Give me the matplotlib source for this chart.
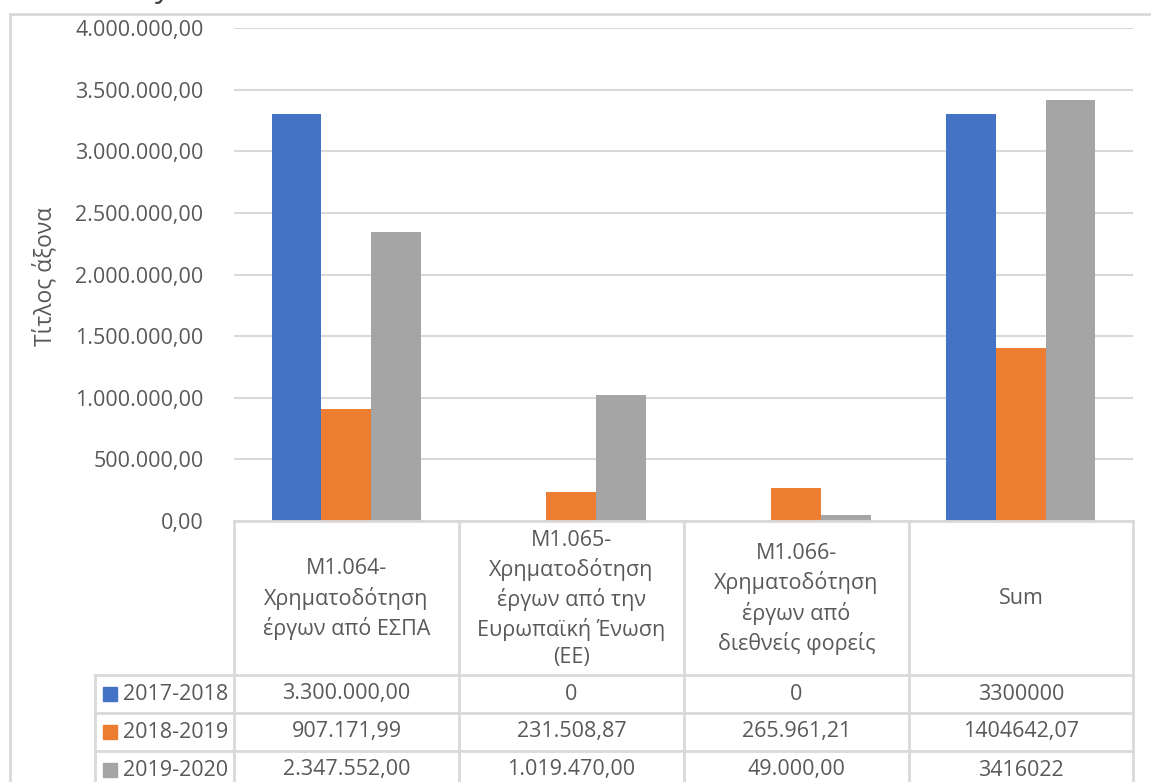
import matplotlib.pyplot as plt
from matplotlib.lines import Line2D
from matplotlib.patches import Rectangle
from matplotlib.ticker import FuncFormatter, MultipleLocator

# data
categories = [
    "M1.064-\nΧρηματοδότηση\nέργων από ΕΣΠΑ",
    "M1.065-\nΧρηματοδότηση\nέργων από την\nΕυρωπαϊκή Ένωση\n(ΕΕ)",
    "M1.066-\nΧρηματοδότηση\nέργων από\nδιεθνείς φορείς",
    "Sum",
]
series_names = ["2017-2018", "2018-2019", "2019-2020"]
vals_2017 = [3300000, 0, 0, 3300000]
vals_2018 = [907171.99, 231508.87, 265961.21, 1404642.07]
vals_2019 = [2347552, 1019470, 49000, 3416022]
# table cells as shown in the sheet
cells_2017 = ["3.300.000,00", "0", "0", "3300000"]
cells_2018 = ["907.171,99", "231.508,87", "265.961,21", "1404642,07"]
cells_2019 = ["2.347.552,00", "1.019.470,00", "49.000,00", "3416022"]

colors = ["#4472C4", "#ED7D31", "#A5A5A5"]
txt = "#595959"
grid = "#D9D9D9"
font = "Open Sans"
fs = 15.5

W, H = 1151, 782
fig = plt.figure(figsize=(W / 100, H / 100), dpi=100)

def fx(x):
    return x / W

def fy(y):
    return 1 - y / H

# plot area in pixels
left, right, top, bottom = 234, 1133, 28, 521
ax = fig.add_axes([fx(left), fy(bottom), fx(right - left), (bottom - top) / H])

bw = 0.222
offsets = [-bw, 0, bw]
all_vals = [vals_2017, vals_2018, vals_2019]
xs = range(len(categories))
for i, v in enumerate(all_vals):
    ax.bar([x + offsets[i] for x in xs], v, width=bw, color=colors[i], zorder=3)

ax.set_xlim(-0.5, len(categories) - 0.5)
ax.set_ylim(0, 4000000)
ax.yaxis.set_major_locator(MultipleLocator(500000))

def fmt(v, pos):
    s = f"{v:,.2f}"
    return s.replace(",", "X").replace(".", ",").replace("X", ".")

ax.yaxis.set_major_formatter(FuncFormatter(fmt))
ax.grid(axis="y", color=grid, linewidth=1.5, zorder=0)
for s in ax.spines.values():
    s.set_visible(False)
ax.tick_params(axis="y", length=0, pad=22, labelsize=fs, labelcolor=txt)
ax.tick_params(axis="x", length=0, labelbottom=False)
for lab in ax.get_yticklabels():
    lab.set_fontfamily(font)

# axis title
fig.text(fx(45), fy(276), "Τίτλος άξονα", rotation=90, ha="center", va="center",
         fontsize=16.5, color=txt, fontfamily=font)

# cut-off title descender at top
fig.text(fx(163), fy(-3), "y", ha="center", va="baseline", fontsize=22, color="#404040",
         fontfamily=font)

# outer chart border
fig.add_artist(Line2D([fx(10), fx(10)], [fy(14), 0], color=grid, lw=2))
fig.add_artist(Line2D([fx(10), 1], [fy(14), fy(14)], color=grid, lw=2))

# data table
col_x = [234, 459, 684, 909, 1133]
row_y = [675, 713, 751, 789]
lab_x = 95

def hline(x0, x1, y):
    fig.add_artist(Line2D([fx(x0), fx(x1)], [fy(y), fy(y)], color=grid, lw=2))

def vline(x, y0, y1):
    fig.add_artist(Line2D([fx(x), fx(x)], [fy(y0), fy(y1)], color=grid, lw=2))

hline(col_x[0], col_x[-1], bottom)
for y in row_y[:-1]:
    hline(lab_x, col_x[-1], y)
for x in col_x:
    vline(x, bottom, H)
vline(lab_x, row_y[0], H)

for j, c in enumerate(categories):
    cx = (col_x[j] + col_x[j + 1]) / 2
    fig.text(fx(cx), fy((bottom + row_y[0]) / 2 + 1), c, ha="center", va="center",
             fontsize=fs, color=txt, fontfamily=font, linespacing=1.4)

all_cells = [cells_2017, cells_2018, cells_2019]
for i, name in enumerate(series_names):
    cy = (row_y[i] + row_y[i + 1]) / 2 if i < 2 else row_y[i] + 19
    fig.add_artist(Rectangle((fx(103), fy(cy + 7)), 14 / W, 14 / H, color=colors[i]))
    fig.text(fx(123), fy(cy), name, ha="left", va="center", fontsize=fs, color=txt,
             fontfamily=font)
    for j, c in enumerate(all_cells[i]):
        cx = (col_x[j] + col_x[j + 1]) / 2
        fig.text(fx(cx), fy(cy), c, ha="center", va="center", fontsize=fs, color=txt,
                 fontfamily=font)

fig.savefig("out.png", dpi=100)
